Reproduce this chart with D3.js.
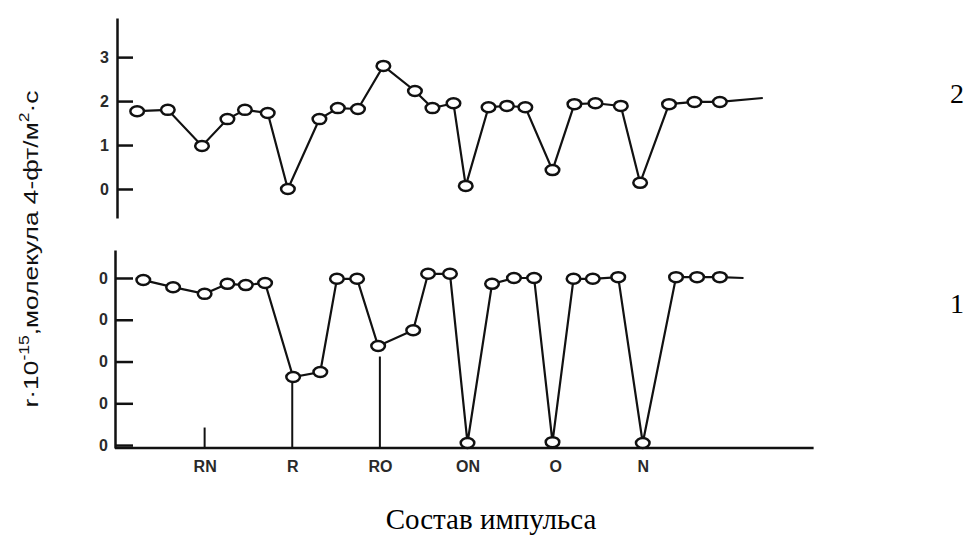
<!DOCTYPE html>
<html>
<head>
<meta charset="utf-8">
<script src="https://cdn.jsdelivr.net/npm/d3@7"></script>
<style>
  body { margin: 0; background: #fff; }
  .tick text { font-family: "Liberation Sans", Arial, sans-serif; font-weight: bold; font-size: 16px; fill: #2a2a2a; }
</style>
</head>
<body>
<svg id="chart" width="968" height="535"></svg>
<script>
// pulse composition categories (positions on the x axis, in pulse units)
const categories = ['RN', 'R', 'RO', 'ON', 'O', 'N'];
const categoryPos = [1, 2, 3, 4, 5, 6];

// curve 2 (upper panel)
const topX = [0.23, 0.58, 0.97, 1.26, 1.46, 1.72, 1.95, 2.31, 2.52, 2.75, 3.04, 3.40, 3.60, 3.84,
  3.98, 4.24, 4.45, 4.66, 4.97, 5.22, 5.46, 5.75, 5.97, 6.30, 6.59, 6.88];
const topY = [1.77, 1.80, 0.98, 1.59, 1.80, 1.73, 0.00, 1.59, 1.84, 1.82, 2.80, 2.23, 1.84, 1.95,
  0.07, 1.86, 1.89, 1.86, 0.43, 1.93, 1.95, 1.89, 0.14, 1.93, 1.98, 1.98];
const topTail = [7.37, 2.07];
const topTicks = [0, 1, 2, 3];

// curve 1 (lower panel)
const botX = [0.30, 0.64, 1.00, 1.26, 1.47, 1.69, 2.01, 2.32, 2.51, 2.74, 2.98, 3.38, 3.55, 3.80,
  4.00, 4.28, 4.53, 4.76, 4.97, 5.21, 5.43, 5.72, 6.00, 6.38, 6.62, 6.88];
const botY = [3.95, 3.78, 3.62, 3.86, 3.83, 3.88, 1.63, 1.75, 3.98, 3.98, 2.37, 2.75, 4.10, 4.10,
  0.05, 3.86, 4.00, 4.00, 0.07, 3.98, 3.98, 4.02, 0.05, 4.02, 4.02, 4.02];
const botTail = [7.15, 4.00];
const botTicks = [0, 1, 2, 3, 4];
const botTickLabels = ['0', '0', '0', '0', '0'];
// heights of the marker lines standing on the category ticks
const markerTop = [0.42, 1.63, 2.12, 0, 0, 0];

const svg = d3.select('#chart');

const x = d3.scaleLinear().domain([0, 8]).range([117, 818]);
const yTop = d3.scaleLinear().domain([-0.66, 3.89]).range([218, 18]);
const yBot = d3.scaleLinear().domain([-0.07, 4.67]).range([448, 250]);

function drawPanel(xs, ys, tail, yScale) {
  const pts = xs.map((v, i) => [v, ys[i]]);
  const line = d3.line().x(d => x(d[0])).y(d => yScale(d[1]));
  svg.append('path')
    .attr('d', line(pts.concat([tail])))
    .attr('fill', 'none')
    .attr('stroke', '#111')
    .attr('stroke-width', 2.2);
  svg.append('g').selectAll('ellipse')
    .data(pts)
    .join('ellipse')
    .attr('cx', d => x(d[0]))
    .attr('cy', d => yScale(d[1]))
    .attr('rx', 6.8)
    .attr('ry', 5)
    .attr('fill', '#fff')
    .attr('stroke', '#111')
    .attr('stroke-width', 2.5);
}

// upper y axis
const axTop = svg.append('g')
  .attr('transform', `translate(${x(0)},0)`)
  .call(d3.axisLeft(yTop).tickValues(topTicks).tickFormat(d3.format('d'))
    .tickSizeInner(-16).tickSizeOuter(0).tickPadding(8));
axTop.selectAll('line, path').attr('stroke', '#111').attr('stroke-width', 2.5);

// lower y axis
const axBot = svg.append('g')
  .attr('transform', `translate(${x(0) - 2},0)`)
  .call(d3.axisLeft(yBot).tickValues(botTicks).tickFormat((d, i) => botTickLabels[i])
    .tickSizeInner(-18).tickSizeOuter(0).tickPadding(7));
axBot.selectAll('line, path').attr('stroke', '#111').attr('stroke-width', 2.5);

// lower x axis
const axX = svg.append('g')
  .attr('transform', `translate(0,${yBot(-0.07)})`)
  .call(d3.axisBottom(x).tickValues(categoryPos).tickFormat((d, i) => categories[i])
    .tickSize(0).tickPadding(13));
axX.select('.domain').attr('stroke', '#111').attr('stroke-width', 2.5)
  .attr('d', `M${x(0) - 2},0H${x(7.95)}`);

// marker lines above category ticks
svg.append('g').selectAll('line')
  .data(categoryPos.map((p, i) => [p, markerTop[i]]).filter(d => d[1] > 0))
  .join('line')
  .attr('x1', d => x(d[0])).attr('x2', d => x(d[0]))
  .attr('y1', yBot(-0.07)).attr('y2', d => yBot(d[1]))
  .attr('stroke', '#111').attr('stroke-width', 2);

drawPanel(topX, topY, topTail, yTop);
drawPanel(botX, botY, botTail, yBot);

// curve numbers
const serif = '"Liberation Serif", "Times New Roman", serif';
svg.append('text').attr('x', 957).attr('y', 103).attr('text-anchor', 'middle')
  .attr('font-family', serif).attr('font-size', 28).text('2');
svg.append('text').attr('x', 957).attr('y', 313).attr('text-anchor', 'middle')
  .attr('font-family', serif).attr('font-size', 28).text('1');

// x title
svg.append('text').attr('x', 491).attr('y', 529).attr('text-anchor', 'middle')
  .attr('font-family', serif).attr('font-size', 29).text('Состав импульса');

// y title, stretched along its baseline to the length it has in the figure
const yTitle = svg.append('text')
  .attr('text-anchor', 'middle')
  .attr('font-family', '"Liberation Sans", Arial, sans-serif')
  .attr('font-size', 21)
  .attr('fill', '#111');
yTitle.append('tspan').text('r·10');
yTitle.append('tspan').attr('dy', -9).attr('font-size', 14).text('-15');
yTitle.append('tspan').attr('dy', 9).text(',молекула 4-фт/м');
yTitle.append('tspan').attr('dy', -9).attr('font-size', 14).text('2');
yTitle.append('tspan').attr('dy', 9).text('·с');
const titleLen = yTitle.node().getComputedTextLength();
yTitle.attr('transform', `translate(38,249) rotate(-90) scale(${317 / titleLen},1)`);
</script>
</body>
</html>
